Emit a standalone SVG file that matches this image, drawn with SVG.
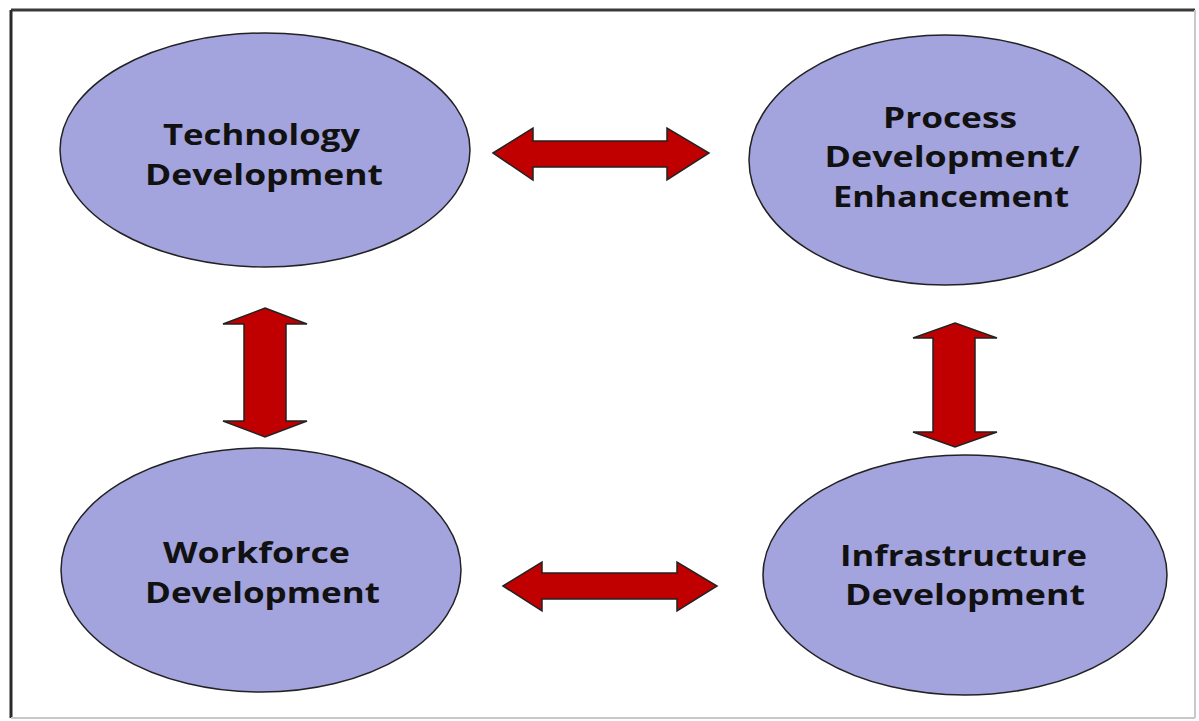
<svg xmlns="http://www.w3.org/2000/svg" width="1199" height="721" viewBox="0 0 1199 721">
  <style>
    .node { fill: #a3a3de; stroke: #222; stroke-width: 1.5; }
    .lbl { font-family: "Open Sans", "DejaVu Sans", sans-serif; font-weight: bold; font-size: 28px; fill: #111; text-anchor: middle; }
    .arrow { fill: #c00000; stroke: #222; stroke-width: 1.5; stroke-linejoin: miter; }
  </style>
  <rect x="0" y="0" width="1199" height="721" fill="#ffffff"/>
  <g id="frame">
    <line x1="11" y1="10" x2="1195" y2="10" stroke="#3a3a3a" stroke-width="3"/>
    <line x1="11" y1="10" x2="11" y2="718" stroke="#2a2a2a" stroke-width="3"/>
    <line x1="1195" y1="10" x2="1195" y2="718" stroke="#c8c8c8" stroke-width="2"/>
    <line x1="11" y1="718" x2="1195" y2="718" stroke="#c8c8c8" stroke-width="2"/>
  </g>
  <g id="connectors">
    <path class="arrow" d="M493,153 L533,128 L533,141 L667,141 L667,128 L709,153 L667,180 L667,167 L533,167 L533,180 Z"/>
    <path class="arrow" d="M503,586 L542,562 L542,573 L677,573 L677,562 L717,586 L677,611 L677,599 L542,599 L542,611 Z"/>
    <path class="arrow" d="M265,308 L307,324 L286,324 L286,421 L307,421 L265,437 L223,421 L244,421 L244,324 L223,324 Z"/>
    <path class="arrow" d="M955,323 L997,338 L975,338 L975,432 L997,432 L955,447 L913,432 L933,432 L933,338 L913,338 Z"/>
  </g>
  <g id="technology">
    <ellipse class="node" cx="265" cy="150" rx="205" ry="117"/>
    <text class="lbl" x="261.5" y="145" textLength="197" lengthAdjust="spacingAndGlyphs">Technology</text>
    <text class="lbl" x="264" y="185" textLength="238" lengthAdjust="spacingAndGlyphs">Development</text>
  </g>
  <g id="process">
    <ellipse class="node" cx="945" cy="160" rx="196" ry="125"/>
    <text class="lbl" x="950" y="128" textLength="134" lengthAdjust="spacingAndGlyphs">Process</text>
    <text class="lbl" x="952" y="167" textLength="255" lengthAdjust="spacingAndGlyphs">Development/</text>
    <text class="lbl" x="951" y="207" textLength="236" lengthAdjust="spacingAndGlyphs">Enhancement</text>
  </g>
  <g id="workforce">
    <ellipse class="node" cx="261" cy="570" rx="200" ry="122"/>
    <text class="lbl" x="256.5" y="563" textLength="187" lengthAdjust="spacingAndGlyphs">Workforce</text>
    <text class="lbl" x="262.5" y="603" textLength="235" lengthAdjust="spacingAndGlyphs">Development</text>
  </g>
  <g id="infrastructure">
    <ellipse class="node" cx="965" cy="575" rx="202" ry="120"/>
    <text class="lbl" x="963.5" y="566" textLength="247" lengthAdjust="spacingAndGlyphs">Infrastructure</text>
    <text class="lbl" x="965" y="605" textLength="240" lengthAdjust="spacingAndGlyphs">Development</text>
  </g>
</svg>
